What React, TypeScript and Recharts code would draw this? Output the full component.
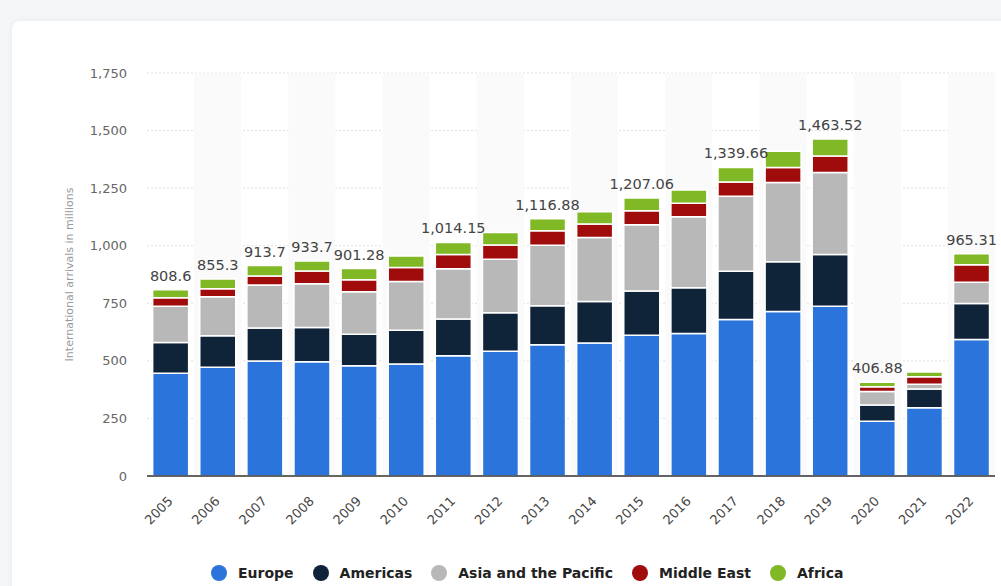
import {
  BarChart,
  Bar,
  XAxis,
  YAxis,
  CartesianGrid,
  LabelList,
  ReferenceArea,
} from "recharts";

const years = [
  "2005", "2006", "2007", "2008", "2009", "2010", "2011", "2012", "2013",
  "2014", "2015", "2016", "2017", "2018", "2019", "2020", "2021", "2022",
];
const europe = [446, 472, 499, 496, 479, 486, 522, 542, 570, 578, 611, 619, 680, 714, 737, 238, 296, 593];
const americas = [134, 137, 144, 149, 136, 147, 160, 167, 169, 180, 192, 199, 209, 216, 225, 70, 82, 156];
const asiaPacific = [157, 169, 186, 190, 185, 212, 218, 232, 263, 278, 288, 308, 326, 344, 356, 59, 20, 92];
const middleEast = [37, 35, 40, 55, 52, 60, 62, 62, 63, 58, 61, 58, 62, 66, 72, 21, 33, 76];
const africa = [35, 42, 45, 44, 49, 50, 52, 54, 52, 54, 55, 58, 63, 70, 73, 19, 21, 48];
const totalLabels = [
  "808.6", "855.3", "913.7", "933.7", "901.28", null, "1,014.15", null, "1,116.88",
  null, "1,207.06", null, "1,339.66", null, "1,463.52", "406.88", null, "965.31",
];
const yTicks = [0, 250, 500, 750, 1000, 1250, 1500, 1750];

const series = [
  { key: "europe", name: "Europe", color: "#2a74db" },
  { key: "americas", name: "Americas", color: "#0f2339" },
  { key: "asia", name: "Asia and the Pacific", color: "#b8b8b8" },
  { key: "middleEast", name: "Middle East", color: "#a00c0c" },
  { key: "africa", name: "Africa", color: "#80b826" },
];

const data = years.map((year, i) => ({
  year,
  europe: europe[i],
  americas: americas[i],
  asia: asiaPacific[i],
  middleEast: middleEast[i],
  africa: africa[i],
  label: totalLabels[i],
}));

const FONT = "'DejaVu Sans', Verdana, sans-serif";

const YearTick = ({ x, y, payload }: any) => (
  <g transform={`translate(${x + 3},${y + 26})`}>
    <text
      x={0}
      y={0}
      textAnchor="end"
      transform="rotate(-45)"
      fill="#444"
      fontSize={13}
      fontFamily={FONT}
    >
      {payload.value}
    </text>
  </g>
);

export default function App() {
  return (
    <div
      style={{
        position: "fixed",
        left: 0,
        top: 0,
        width: 1001,
        height: 586,
        background: "#f5f6f8",
        overflow: "hidden",
      }}
    >
      <div
        style={{
          position: "absolute",
          left: 12,
          top: 21,
          width: 1010,
          height: 600,
          background: "#fff",
          borderRadius: 8,
          boxShadow: "0 0 6px rgba(0,0,0,0.06)",
        }}
      />
      <div style={{ position: "absolute", left: 0, top: 0 }}>
        <BarChart
          width={1001}
          height={586}
          data={data}
          margin={{ top: 73, right: 6, bottom: 0, left: 0 }}
          barCategoryGap="12%"
        >
          {years
            .filter((_, i) => i % 2 === 1)
            .map((y) => (
              <ReferenceArea
                key={y}
                x1={y}
                x2={y}
                y1={0}
                y2={1750}
                fill="#fafafa"
                fillOpacity={1}
                stroke="none"
                ifOverflow="visible"
              />
            ))}
          <CartesianGrid vertical={false} stroke="#e0e0e0" strokeDasharray="2 2" />
          <XAxis
            dataKey="year"
            height={110}
            interval={0}
            tickLine={false}
            tickSize={0}
            tickMargin={0}
            axisLine={{ stroke: "#333", strokeWidth: 1.5 }}
            tick={<YearTick />}
          />
          <YAxis
            width={147}
            domain={[0, 1750]}
            ticks={yTicks}
            tickLine={false}
            axisLine={false}
            tickSize={6}
            tickMargin={14}
            tickFormatter={(v: number) => v.toLocaleString("en-US")}
            tick={{ fill: "#666", fontSize: 13, fontFamily: FONT }}
            label={{
              value: "International arrivals in millions",
              angle: -90,
              position: "insideLeft",
              offset: 69,
              style: { textAnchor: "middle", fill: "#999", fontSize: 11, fontFamily: FONT },
            }}
          />
          {series.map((s) => (
            <Bar
              key={s.key}
              dataKey={s.key}
              name={s.name}
              stackId="a"
              fill={s.color}
              stroke="#fff"
              strokeWidth={1.5}
              isAnimationActive={false}
            >
              {s.key === "africa" && (
                <LabelList
                  dataKey="label"
                  position="top"
                  offset={9}
                  fill="#444"
                  fontSize={14.5}
                  fontFamily={FONT}
                />
              )}
            </Bar>
          ))}
        </BarChart>
      </div>
      <div
        style={{
          position: "absolute",
          left: 211,
          top: 565,
          display: "flex",
          alignItems: "center",
          fontFamily: FONT,
          fontWeight: 700,
          fontSize: 14,
          color: "#222",
        }}
      >
        {series.map((s) => (
          <div key={s.key} style={{ display: "flex", alignItems: "center", marginRight: 19 }}>
            <span
              style={{
                display: "inline-block",
                width: 16,
                height: 16,
                borderRadius: "50%",
                background: s.color,
                marginRight: 11,
              }}
            />
            <span>{s.name}</span>
          </div>
        ))}
      </div>
    </div>
  );
}
